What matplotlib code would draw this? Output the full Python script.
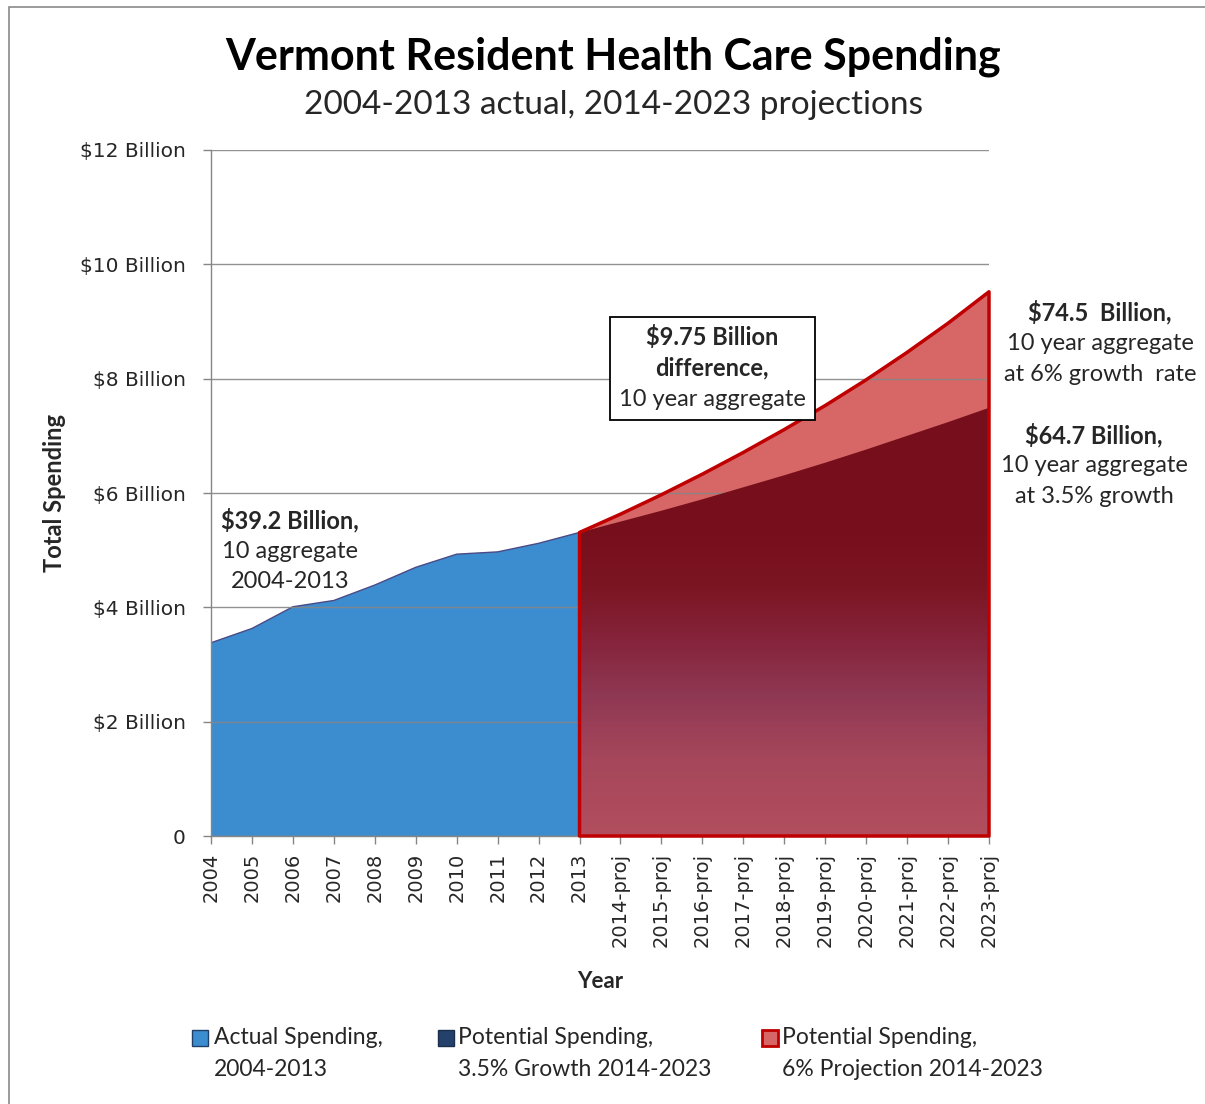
import numpy as np
import matplotlib
matplotlib.use("Agg")
import matplotlib.pyplot as plt
from matplotlib.patches import Rectangle
from matplotlib.colors import LinearSegmentedColormap

# ---------------- data ----------------
categories = ['2004', '2005', '2006', '2007', '2008', '2009', '2010', '2011', '2012', '2013',
              '2014-proj', '2015-proj', '2016-proj', '2017-proj', '2018-proj', '2019-proj',
              '2020-proj', '2021-proj', '2022-proj', '2023-proj']
actual = [3.38, 3.63, 4.01, 4.12, 4.39, 4.70, 4.93, 4.97, 5.12, 5.31]            # 2004-2013
proj_35 = [5.31, 5.50, 5.69, 5.89, 6.10, 6.31, 6.53, 6.76, 7.00, 7.24, 7.49]      # 2013-2023
proj_6 = [5.31, 5.63, 5.97, 6.33, 6.71, 7.11, 7.53, 7.98, 8.46, 8.97, 9.52]       # 2013-2023
y_ticks = [0, 2, 4, 6, 8, 10, 12]
y_tick_labels = ['0', '$2 Billion', '$4 Billion', '$6 Billion', '$8 Billion', '$10 Billion', '$12 Billion']
legend_labels = [['Actual Spending,', '2004-2013'],
                 ['Potential Spending,', '3.5% Growth 2014-2023'],
                 ['Potential Spending,', '6% Projection 2014-2023']]

W, H = 1205, 1104
def fx(px): return px / W
def fy(py): return 1 - py / H

BLUE = '#3C8DCF'
LIGHT_RED = '#D76666'
RED = '#C00000'
GRAY = '#868686'
TXT = '#262626'
FONT = ['Lato', 'DejaVu Sans']
TICKFONT = ['DejaVu Sans']

fig = plt.figure(figsize=(W / 100, H / 100), dpi=100)
fig.patch.set_facecolor('white')
ax = fig.add_axes([fx(211), fy(836), fx(989) - fx(211), fy(150) - fy(836)])

x = np.arange(len(categories))
x_act = x[:len(actual)]
x_proj = x[len(actual) - 1:]

# actual spending
ax.fill_between(x_act, 0, actual, facecolor=BLUE, edgecolor='none', zorder=1)
ax.plot(x_act, actual, color='#4A4A86', lw=1, zorder=1.5)

# 6% projection (light red, full area)
ax.fill_between(x_proj, 0, proj_6, facecolor=LIGHT_RED, edgecolor='none', zorder=1)

# gridlines
ax.set_axisbelow(False)
ax.yaxis.grid(True, color=GRAY, lw=1, alpha=0.9)

# 3.5% projection with vertical gradient
clip_poly = ax.fill_between(x_proj, 0, proj_35, facecolor='none', edgecolor='none', zorder=3)
cmap = LinearSegmentedColormap.from_list('grad', [
    (0.00, '#B24E5E'),
    (0.17, '#A6475B'),
    (0.32, '#8F3853'),
    (0.45, '#85233A'),
    (0.57, '#7C1522'),
    (0.68, '#77101C'),
    (1.00, '#760F1B')])
top = max(proj_35) + 0.2
grad = np.linspace(0, 1, 512).reshape(-1, 1)
im = ax.imshow(grad, cmap=cmap, origin='lower', aspect='auto',
               extent=[x_proj[0], x_proj[-1], 0, top], zorder=3, interpolation='bilinear')
im.set_clip_path(clip_poly.get_paths()[0], transform=ax.transData)

# red outline of the 6% area
ax.fill_between(x_proj, 0, proj_6, facecolor='none', edgecolor=RED, lw=2.5, zorder=4,
                clip_on=False)

ax.set_xlim(0, len(categories) - 1)
ax.set_ylim(0, 12)
ax.set_yticks(y_ticks)
ax.set_yticklabels(y_tick_labels, fontfamily=TICKFONT, fontsize=14.5, color=TXT)
ax.set_xticks(x)
ax.set_xticklabels(categories, rotation=90, fontfamily=TICKFONT, fontsize=14, color=TXT,
                   va='top', ha='center')
ax.tick_params(axis='both', color=GRAY, length=6, width=1)
ax.tick_params(axis='y', pad=12)
ax.tick_params(axis='x', pad=6)
for s in ['top', 'right']:
    ax.spines[s].set_visible(False)
for s in ['left', 'bottom']:
    ax.spines[s].set_color(GRAY)
    ax.spines[s].set_linewidth(1)

# axis titles
fig.text(fx(600), fy(982), 'Year', ha='center', va='center', fontfamily=FONT,
         fontweight='bold', fontsize=16, color=TXT)
fig.text(fx(55), fy(493), 'Total Spending', ha='center', va='center', rotation=90,
         fontfamily=FONT, fontweight='bold', fontsize=17, color=TXT)

# titles
fig.text(fx(613), fy(57), 'Vermont Resident Health Care Spending', ha='center', va='center',
         fontfamily=FONT, fontweight='bold', fontsize=31, color='black')
fig.text(fx(613), fy(105), '2004-2013 actual, 2014-2023 projections', ha='center', va='center',
         fontfamily=FONT, fontsize=24, color=TXT)

# annotations
def lines(cx, ys, texts, n_bold=1, size=17):
    for i, (yy, t) in enumerate(zip(ys, texts)):
        fig.text(fx(cx), fy(yy), t, ha='center', va='center', fontfamily=FONT,
                 fontweight='bold' if i < n_bold else 'normal',
                 fontsize=size, color=TXT, zorder=10)

lines(290, [520, 551, 582], ['$39.2 Billion,', '10 aggregate', '2004-2013'])

fig.add_artist(Rectangle((fx(610), fy(420)), fx(815) - fx(610), fy(317) - fy(420),
                         transform=fig.transFigure, facecolor='white', edgecolor='black',
                         lw=1.3, zorder=9))
lines(712, [337, 368, 399], ['$9.75 Billion', 'difference,', '10 year aggregate'], n_bold=2)

lines(1100, [312, 343, 374], ['$74.5  Billion,', '10 year aggregate', 'at 6% growth  rate'])
lines(1094, [435, 466, 497], ['$64.7 Billion,', '10 year aggregate', 'at 3.5% growth'])

# legend (manual)
icon_x = [192, 438, 762]
text_x = [214, 458, 782]
icon_face = [BLUE, '#23416B', LIGHT_RED]
icon_edge = ['#1F3F66', '#1B2F4D', RED]
icon_lw = [1, 1, 2]
for ix, tx, fc, ec, lw, lab in zip(icon_x, text_x, icon_face, icon_edge, icon_lw, legend_labels):
    fig.add_artist(Rectangle((fx(ix), fy(1046)), fx(16), fy(0) - fy(16),
                             transform=fig.transFigure, facecolor=fc, edgecolor=ec, lw=lw))
    fig.text(fx(tx), fy(1038), lab[0], ha='left', va='center', fontfamily=FONT,
             fontsize=16.5, color=TXT)
    fig.text(fx(tx), fy(1069), lab[1], ha='left', va='center', fontfamily=FONT,
             fontsize=16.5, color=TXT)

# outer border
fig.add_artist(Rectangle((fx(9), fy(1120)), fx(1220), fy(7) - fy(1120),
                         transform=fig.transFigure, facecolor='none', edgecolor='#8A8A8A', lw=1.2))

fig.savefig('out.png', dpi=100)
